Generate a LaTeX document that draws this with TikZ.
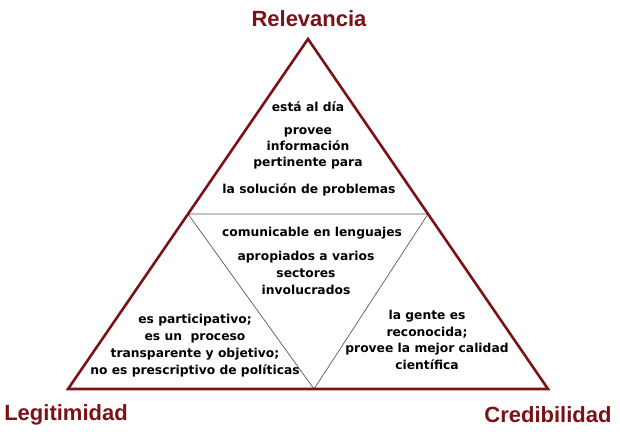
\documentclass[tikz,border=0pt]{standalone}
\usepackage{fontspec}
\setmainfont{DejaVu Sans}
\newfontfamily\labelfont{Liberation Sans}
\usepackage{tikz}
\usetikzlibrary{calc,positioning}
\definecolor{tridark}{RGB}{122,18,22}

\tikzset{
  corner/.style={font=\labelfont\bfseries\fontsize{22}{24}\selectfont,text=tridark},
  body/.style={font=\bfseries\fontsize{12.3}{17}\selectfont,align=center,inner sep=0pt}
}

\begin{document}
\begin{tikzpicture}[x=1pt,y=-1pt]
\useasboundingbox (0,0) rectangle (620,431);
% vertices of the outer triangle
\coordinate (apex) at (308,39);
\coordinate (botL) at (68,389);
\coordinate (botR) at (548,389);
% inner triangle from the midpoints
\coordinate (midL) at ($(apex)!0.5!(botL)$);
\coordinate (midR) at ($(apex)!0.5!(botR)$);
\coordinate (midB) at (314,389);
\draw[gray!70!black,line width=0.7pt] (midL) -- (midR) -- (midB) -- cycle;
\draw[tridark,line width=2.6pt,line join=miter] (apex) -- (botR) -- (botL) -- cycle;

% the three corners
\node[corner] (relev) at (309,19) {Relevancia};
\node[corner] (legit) at (66,415) {Legitimidad};
\node[corner] (credib) at (548,415) {Credibilidad};

% top part
\node[body] (dia) at (308,107) {está al día};
\node[body,font=\bfseries\fontsize{12.3}{16}\selectfont] (provee) at (308,148) {provee\\información\\pertinente para};
\node[body] (sol) at (309,190) {la solución de problemas};

% middle part
\node[body] (comun) at (312,233) {comunicable en lenguajes};
\node[body] (aprop) at (306,273) {apropiados a varios\\sectores\\involucrados};

% left part
\node[body] (partic) at (195,345.5) {es participativo;\\es un\ \ proceso\\transparente y objetivo;\\no es prescriptivo de políticas};

% right part
\node[body,font=\bfseries\fontsize{12.3}{16.7}\selectfont] (gente) at (427,340) {la gente es\\reconocida;\\provee la mejor calidad\\científica};
\end{tikzpicture}
\end{document}
